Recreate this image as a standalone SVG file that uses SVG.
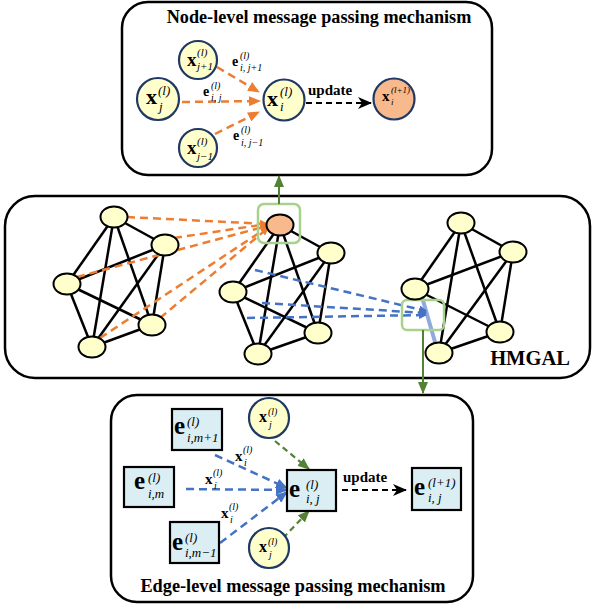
<svg xmlns="http://www.w3.org/2000/svg" width="593" height="608" viewBox="0 0 593 608">
<defs>
<style>
.box{fill:#fff;stroke:#000;stroke-width:2.5}
.gn{fill:#FFFFCC;stroke:#000;stroke-width:2}
.cn{fill:#FFFFCC;stroke:#1F3864;stroke-width:2.2}
.rn{fill:#DAEEF3;stroke:#000;stroke-width:2.2}
.ge{stroke:#000;stroke-width:2.5;fill:none}
.od{stroke:#ED7D31;stroke-width:2.5;stroke-dasharray:8,5;fill:none}
.bd{stroke:#4472C4;stroke-width:2.5;stroke-dasharray:8,5;fill:none}
.gd{stroke:#548235;stroke-width:2.2;stroke-dasharray:6,4;fill:none}
.kd{stroke:#000;stroke-width:2.2;stroke-dasharray:6,4;fill:none}
.hl{fill:none;stroke:#A9D18E;stroke-width:2.5}
.b{font-family:"Liberation Serif","Times New Roman",serif;font-weight:bold;fill:#000}
.i{font-family:"Liberation Serif","Times New Roman",serif;font-style:italic;fill:#000}
</style>
<marker id="ao" markerWidth="12" markerHeight="10" refX="11" refY="5" orient="auto" markerUnits="userSpaceOnUse"><path d="M0,0 L12,5 L0,10 z" fill="#ED7D31"/></marker>
<marker id="aos" markerWidth="8" markerHeight="8" refX="7" refY="4" orient="auto" markerUnits="userSpaceOnUse"><path d="M0,0 L8,4 L0,8 z" fill="#ED7D31"/></marker>
<marker id="ab" markerWidth="12" markerHeight="10" refX="11" refY="5" orient="auto" markerUnits="userSpaceOnUse"><path d="M0,0 L12,5 L0,10 z" fill="#4472C4"/></marker>
<marker id="abs" markerWidth="8" markerHeight="8" refX="7" refY="4" orient="auto" markerUnits="userSpaceOnUse"><path d="M0,0 L8,4 L0,8 z" fill="#4472C4"/></marker>
<marker id="ag" markerWidth="12" markerHeight="10" refX="11" refY="5" orient="auto" markerUnits="userSpaceOnUse"><path d="M0,0 L12,5 L0,10 z" fill="#548235"/></marker>
<marker id="ak" markerWidth="14" markerHeight="12" refX="13" refY="6" orient="auto" markerUnits="userSpaceOnUse"><path d="M0,0 L14,6 L0,12 L4,6 z" fill="#000"/></marker>
</defs>

<!-- boxes -->
<g id="node-level-box">
<rect class="box" x="122" y="2" width="370" height="173" rx="26"/>
<text class="b" x="319" y="23" font-size="18.2" text-anchor="middle">Node-level message passing mechanism</text>
</g>
<g id="hmgal-box">
<rect class="box" x="5" y="196" width="585" height="182" rx="30"/>
<text class="b" x="530" y="365" font-size="20.5" text-anchor="middle">HMGAL</text>
</g>
<g id="edge-level-box">
<rect class="box" x="111" y="395" width="362" height="207" rx="26"/>
<text class="b" x="293" y="592" font-size="18.3" text-anchor="middle">Edge-level message passing mechanism</text>
</g>

<!-- connectors -->
<g id="connectors">
<!-- top box -->
<line class="od" x1="217" y1="67" x2="259" y2="92" marker-end="url(#ao)"/>
<line class="od" x1="182" y1="102" x2="260" y2="101" marker-end="url(#ao)"/>
<line class="od" x1="215" y1="134" x2="259" y2="112" marker-end="url(#ao)"/>
<line class="kd" x1="306" y1="103" x2="371" y2="103" marker-end="url(#ak)"/>
<!-- graph edges left -->
<g class="ge">
<line x1="114" y1="217" x2="165" y2="245"/><line x1="114" y1="217" x2="67" y2="284"/>
<line x1="114" y1="217" x2="152" y2="325"/><line x1="114" y1="217" x2="92" y2="347"/>
<line x1="165" y1="245" x2="67" y2="284"/><line x1="165" y1="245" x2="152" y2="325"/>
<line x1="165" y1="245" x2="92" y2="347"/><line x1="67" y1="284" x2="152" y2="325"/>
<line x1="67" y1="284" x2="92" y2="347"/><line x1="152" y1="325" x2="92" y2="347"/>
<!-- middle -->
<line x1="280" y1="225" x2="331" y2="253"/><line x1="280" y1="225" x2="233" y2="292"/>
<line x1="280" y1="225" x2="318" y2="333"/><line x1="280" y1="225" x2="258" y2="354"/>
<line x1="331" y1="253" x2="233" y2="292"/><line x1="331" y1="253" x2="318" y2="333"/>
<line x1="331" y1="253" x2="258" y2="354"/><line x1="233" y1="292" x2="318" y2="333"/>
<line x1="233" y1="292" x2="258" y2="354"/><line x1="318" y1="333" x2="258" y2="354"/>
<!-- right -->
<line x1="461" y1="223" x2="513" y2="252"/><line x1="461" y1="223" x2="415" y2="289"/>
<line x1="461" y1="223" x2="500" y2="332"/><line x1="461" y1="223" x2="439" y2="353"/>
<line x1="513" y1="252" x2="415" y2="289"/><line x1="513" y1="252" x2="500" y2="332"/>
<line x1="513" y1="252" x2="439" y2="353"/><line x1="415" y1="289" x2="500" y2="332"/>
<line x1="500" y1="332" x2="439" y2="353"/>
</g>
<line x1="422" y1="297" x2="435" y2="342" stroke="#8FAADC" stroke-width="4"/>
<!-- orange dashed to F -->
<line class="od" x1="127" y1="217" x2="267" y2="224" marker-end="url(#aos)"/>
<line class="od" x1="174" y1="238" x2="267" y2="224" marker-end="url(#aos)"/>
<line class="od" x1="77" y1="277" x2="267" y2="226" marker-end="url(#aos)"/>
<line class="od" x1="160" y1="318" x2="268" y2="228" marker-end="url(#aos)"/>
<line class="od" x1="100" y1="338" x2="268" y2="227" marker-end="url(#aos)"/>
<!-- blue dashed -->
<line class="bd" x1="255" y1="270" x2="426" y2="311" marker-end="url(#abs)"/>
<line class="bd" x1="262" y1="303" x2="426" y2="313" marker-end="url(#abs)"/>
<line class="bd" x1="247" y1="318" x2="426" y2="315" marker-end="url(#abs)"/>
<!-- highlight rects -->
<rect class="hl" x="258" y="204" width="42" height="39" rx="6"/>
<rect class="hl" x="402" y="300" width="42" height="30" rx="5"/>
<!-- inter-box arrows -->
<line x1="279" y1="204" x2="279" y2="176" stroke="#548235" stroke-width="2" marker-end="url(#ag)"/>
<line x1="423" y1="330" x2="423" y2="393" stroke="#548235" stroke-width="2" marker-end="url(#ag)"/>
<!-- bottom box -->
<line class="bd" x1="215" y1="455" x2="287" y2="488" marker-end="url(#ab)"/>
<line class="bd" x1="186" y1="489" x2="287" y2="490" marker-end="url(#ab)"/>
<line class="bd" x1="220" y1="543" x2="287" y2="492" marker-end="url(#ab)"/>
<line class="gd" x1="275" y1="441" x2="309" y2="469" marker-end="url(#ag)"/>
<line class="gd" x1="283" y1="538" x2="309" y2="511" marker-end="url(#ag)"/>
<line class="kd" x1="342" y1="490" x2="406" y2="490" marker-end="url(#ak)"/>
</g>

<!-- top box nodes -->
<g id="n-xj1">
<circle class="cn" cx="198" cy="60" r="19"/>
<text class="b" x="187" y="66" font-size="19">x</text>
<text class="i" x="197" y="56" font-size="11">(l)</text>
<text class="i" x="197" y="70" font-size="11">j+1</text>
</g>
<g id="n-xj">
<circle class="cn" cx="158" cy="99" r="21"/>
<text class="b" x="146" y="104" font-size="22">x</text>
<text class="i" x="158" y="95" font-size="13">(l)</text>
<text class="i" x="159" y="111" font-size="13">j</text>
</g>
<g id="n-xjm1">
<circle class="cn" cx="198" cy="148" r="19"/>
<text class="b" x="187" y="154" font-size="19">x</text>
<text class="i" x="197" y="145" font-size="11">(l)</text>
<text class="i" x="197" y="160" font-size="11">j−1</text>
</g>
<g id="n-xi">
<circle class="cn" cx="284" cy="100" r="20.5"/>
<text class="b" x="267" y="106" font-size="22">x</text>
<text class="i" x="280" y="96" font-size="13">(l)</text>
<text class="i" x="280" y="111" font-size="13">i</text>
</g>
<g id="n-xi-next">
<circle cx="394" cy="99" r="20.5" fill="#F8B98D" stroke="#1F3864" stroke-width="2.2"/>
<text class="b" x="382" y="101" font-size="15">x</text>
<text class="i" x="391" y="93" font-size="9">(l+1)</text>
<text class="i" x="391" y="105" font-size="9">i</text>
</g>
<g id="lbl-e-top">
<text class="b" x="232" y="66" font-size="14">e</text>
<text class="i" x="240" y="59" font-size="10">(l)</text>
<text class="i" x="240" y="71" font-size="10">i, j+1</text>
<text class="b" x="203" y="96" font-size="14">e</text>
<text class="i" x="211" y="89" font-size="10">(l)</text>
<text class="i" x="211" y="101" font-size="10">i, j</text>
<text class="b" x="233" y="140" font-size="14">e</text>
<text class="i" x="241" y="133" font-size="10">(l)</text>
<text class="i" x="241" y="146" font-size="10">i, j−1</text>
<text class="b" x="308" y="95" font-size="15">update</text>
</g>

<!-- graph nodes -->
<g id="graph-left">
<ellipse class="gn" cx="114" cy="217" rx="13.5" ry="10.5"/>
<ellipse class="gn" cx="165" cy="245" rx="13.5" ry="10.5"/>
<ellipse class="gn" cx="67" cy="284" rx="13.5" ry="10.5"/>
<ellipse class="gn" cx="152" cy="325" rx="13.5" ry="10.5"/>
<ellipse class="gn" cx="92" cy="347" rx="13.5" ry="10.5"/>
</g>
<g id="graph-middle">
<ellipse cx="280" cy="225" rx="13.5" ry="10.5" fill="#F8B98D" stroke="#000" stroke-width="2"/>
<ellipse class="gn" cx="331" cy="253" rx="13.5" ry="10.5"/>
<ellipse class="gn" cx="233" cy="292" rx="13.5" ry="10.5"/>
<ellipse class="gn" cx="318" cy="333" rx="13.5" ry="10.5"/>
<ellipse class="gn" cx="258" cy="354" rx="13.5" ry="10.5"/>
</g>
<g id="graph-right">
<ellipse class="gn" cx="461" cy="223" rx="13.5" ry="10.5"/>
<ellipse class="gn" cx="513" cy="252" rx="13.5" ry="10.5"/>
<ellipse class="gn" cx="415" cy="289" rx="13.5" ry="10.5"/>
<ellipse class="gn" cx="500" cy="332" rx="13.5" ry="10.5"/>
<ellipse class="gn" cx="439" cy="353" rx="13.5" ry="10.5"/>
</g>

<!-- bottom box nodes -->
<g id="n-eim1">
<rect class="rn" x="172" y="409" width="50" height="41"/>
<text class="b" x="174" y="434" font-size="25">e</text>
<text class="i" x="187" y="426" font-size="13">(l)</text>
<text class="i" x="187" y="442" font-size="13">i,m+1</text>
</g>
<g id="n-eim">
<rect class="rn" x="124" y="467" width="50" height="40"/>
<text class="b" x="134" y="489" font-size="25">e</text>
<text class="i" x="148" y="482" font-size="13">(l)</text>
<text class="i" x="148" y="498" font-size="13">i,m</text>
</g>
<g id="n-eimm1">
<rect class="rn" x="170" y="522" width="49" height="41"/>
<text class="b" x="172" y="550" font-size="25">e</text>
<text class="i" x="185" y="542" font-size="13">(l)</text>
<text class="i" x="185" y="557" font-size="13">i,m−1</text>
</g>
<g id="n-eij">
<rect class="rn" x="287" y="470" width="49" height="41"/>
<text class="b" x="289" y="497" font-size="25">e</text>
<text class="i" x="306" y="489" font-size="13">(l)</text>
<text class="i" x="306" y="503" font-size="13">i, j</text>
</g>
<g id="n-eij-next">
<rect class="rn" x="412" y="468" width="49" height="42"/>
<text class="b" x="414" y="495" font-size="25">e</text>
<text class="i" x="428" y="487" font-size="13">(l+1)</text>
<text class="i" x="428" y="502" font-size="13">i, j</text>
</g>
<g id="n-xj-top">
<circle class="cn" cx="269" cy="418" r="20"/>
<text class="b" x="259" y="422" font-size="16">x</text>
<text class="i" x="268" y="415" font-size="10">(l)</text>
<text class="i" x="269" y="428" font-size="10">j</text>
</g>
<g id="n-xj-bottom">
<circle class="cn" cx="269" cy="548" r="20"/>
<text class="b" x="259" y="552" font-size="16">x</text>
<text class="i" x="268" y="545" font-size="10">(l)</text>
<text class="i" x="269" y="558" font-size="10">j</text>
</g>
<g id="lbl-bottom">
<text class="b" x="235" y="461" font-size="15">x</text>
<text class="i" x="243" y="453" font-size="10">(l)</text>
<text class="i" x="244" y="466" font-size="10">i</text>
<text class="b" x="205" y="484" font-size="15">x</text>
<text class="i" x="213" y="476" font-size="10">(l)</text>
<text class="i" x="214" y="489" font-size="10">i</text>
<text class="b" x="221" y="518" font-size="15">x</text>
<text class="i" x="229" y="510" font-size="10">(l)</text>
<text class="i" x="230" y="523" font-size="10">i</text>
<text class="b" x="343" y="482" font-size="15">update</text>
</g>
</svg>
